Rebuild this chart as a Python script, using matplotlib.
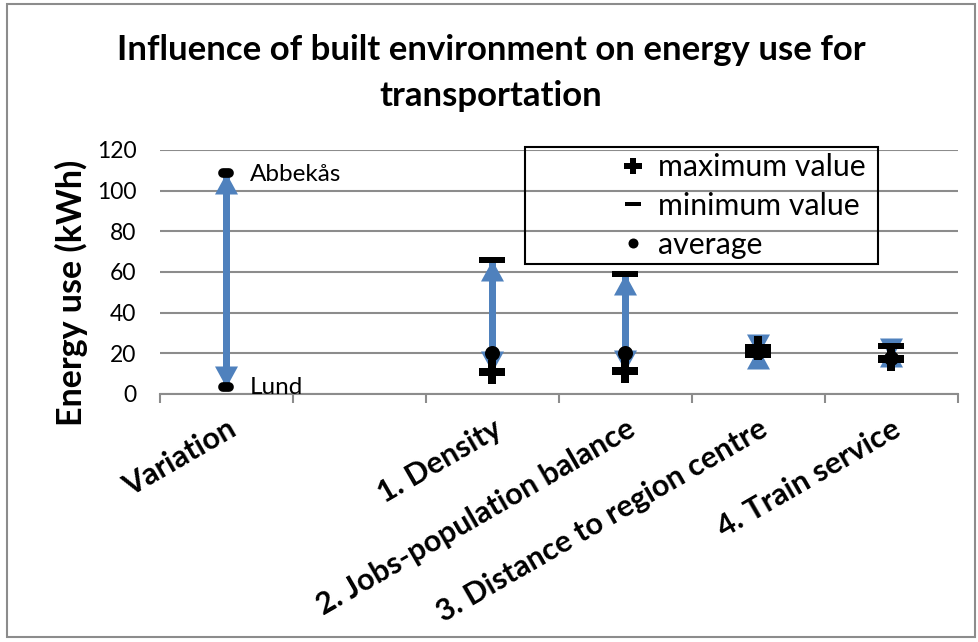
import numpy as np
import matplotlib
matplotlib.use("Agg")
import matplotlib.pyplot as plt
from matplotlib.lines import Line2D
from matplotlib.patches import Rectangle
from matplotlib.markers import MarkerStyle

plt.rcParams['font.family'] = ['Lato', 'DejaVu Sans']

# ---------------- data ----------------
categories = ["Variation", "", "1. Density", "2. Jobs-population balance",
              "3. Distance to region centre", "4. Train service"]
max_values = [np.nan, np.nan, 11, 11.3, 22.4, 17.3]
min_values = [np.nan, np.nan, 66, 59, 19, 23.8]
avg_values = [np.nan, np.nan, 20, 20, 20.7, 17.5]
variation_values = [108.5, 3.5]
variation_labels = ["Abbekås", "Lund"]
y_ticks = [0, 20, 40, 60, 80, 100, 120]

title = "Influence of built environment on energy use for\ntransportation"
y_label = "Energy use (kWh)"
legend_labels = ["maximum value", "minimum value", "average"]

# ---------------- style ----------------
W, H = 979, 642
PX = 0.72  # points per pixel at dpi 100
BLUE = "#4F81BD"
GRID = "#8C8C8C"

fig = plt.figure(figsize=(W / 100, H / 100), dpi=100)
ax = fig.add_axes([160 / W, 1 - 394 / H, (958 - 160) / W, (394 - 150) / H])

x = np.arange(len(categories))

# arrow head markers (tip at origin)
head_w, head_l = 23, 21
up_head = MarkerStyle([(0, 0), (-head_w / 2, -head_l), (head_w / 2, -head_l), (0, 0)])
down_head = MarkerStyle([(0, 0), (-head_w / 2, head_l), (head_w / 2, head_l), (0, 0)])
head_ms = 2 * head_l * PX

plus_marker = MarkerStyle([(-1, -0.3), (-0.3, -0.3), (-0.3, -0.9), (0.3, -0.9), (0.3, -0.3),
                           (1, -0.3), (1, 0.3), (0.3, 0.3), (0.3, 0.9), (-0.3, 0.9),
                           (-0.3, 0.3), (-1, 0.3), (-1, -0.3)])
dash_marker = MarkerStyle([(-1, -0.2), (1, -0.2), (1, 0.2), (-1, 0.2), (-1, -0.2)])


def double_arrow(xi, a, b):
    lo, hi = min(a, b), max(a, b)
    ax.plot([xi, xi], [lo, hi], color=BLUE, lw=7 * PX, solid_capstyle='butt', zorder=2)
    ax.plot([xi], [hi], marker=up_head, ms=head_ms, color=BLUE, mew=0, ls='none', zorder=2)
    ax.plot([xi], [lo], marker=down_head, ms=head_ms, color=BLUE, mew=0, ls='none', zorder=2)


# variation arrow
double_arrow(x[0], variation_values[0], variation_values[1])
vm = MarkerStyle('_', capstyle='round')
ax.plot([x[0], x[0]], variation_values, ls='none', marker=vm, ms=4.5, mew=7,
        color='black', zorder=4)
for v, lab in zip(variation_values, variation_labels):
    ax.annotate(lab, (x[0], v), xytext=(23, -1), textcoords='offset pixels',
                va='center', ha='left', fontsize=17.5, zorder=5)

for i in range(len(categories)):
    if np.isnan(max_values[i]):
        continue
    double_arrow(x[i], max_values[i], min_values[i])

ax.plot(x, max_values, ls='none', marker=plus_marker, ms=27 * PX, mew=0, color='black', zorder=4)
ax.plot(x, min_values, ls='none', marker=dash_marker, ms=27 * PX, mew=0, color='black', zorder=4)
ax.plot(x, avg_values, ls='none', marker='o', ms=15 * PX, mew=0, color='black', zorder=4)

# axes
ax.set_xlim(-0.5, len(categories) - 0.5)
ax.set_ylim(0, 120)
ax.set_yticks(y_ticks)
ax.tick_params(axis='y', length=0, labelsize=16.5, pad=17)
ax.yaxis.grid(True, color=GRID, lw=1.5)
ax.set_axisbelow(True)
for s in ['left', 'right', 'top']:
    ax.spines[s].set_visible(False)
ax.spines['bottom'].set_color(GRID)
ax.spines['bottom'].set_linewidth(1.5)

ax.set_xticks(np.arange(-0.5, len(categories)), [""] * (len(categories) + 1))
ax.tick_params(axis='x', which='major', length=9 * PX, width=1.5, color=GRID, direction='out')
ax.set_xticks(x, categories, minor=True)
ax.tick_params(axis='x', which='minor', length=0, pad=15, labelsize=22)
for lab in ax.get_xticklabels(minor=True):
    lab.set_rotation(30)
    lab.set_rotation_mode('anchor')
    lab.set_ha('right')
    lab.set_va('top')
    lab.set_fontweight('bold')

ax.set_ylabel(y_label, fontsize=24.5, fontweight='bold')
ax.yaxis.set_label_coords((88 - 160) / 798, (394 - 293) / 244)

fig.text(491 / W, 1 - 73 / H, title, ha='center', va='center', fontsize=25,
         fontweight='bold', linespacing=1.5)

# legend
handles = [
    Line2D([], [], ls='none', marker=plus_marker, ms=18 * PX, mew=0, color='black'),
    Line2D([], [], ls='none', marker=dash_marker, ms=16 * PX, mew=0, color='black'),
    Line2D([], [], ls='none', marker='o', ms=10 * PX, mew=0, color='black'),
]
leg = fig.legend(handles, legend_labels, loc='upper left',
                 bbox_to_anchor=(600 / W, 1 - 135 / H), frameon=False, fontsize=21.8,
                 handlelength=1.0, handletextpad=0.3, labelspacing=0.36, borderpad=0.1)
fig.add_artist(Rectangle((525 / W, 1 - 264 / H), (878 - 525) / W, (264 - 147) / H,
                         transform=fig.transFigure, fill=False, edgecolor='black', lw=1.5))

# chart border
fig.add_artist(Rectangle((7 / W, 1 - 637 / H), (975 - 7) / W, (637 - 4) / H,
                         transform=fig.transFigure, fill=False, edgecolor=GRID, lw=1.5))

fig.savefig("out.png", dpi=100)
